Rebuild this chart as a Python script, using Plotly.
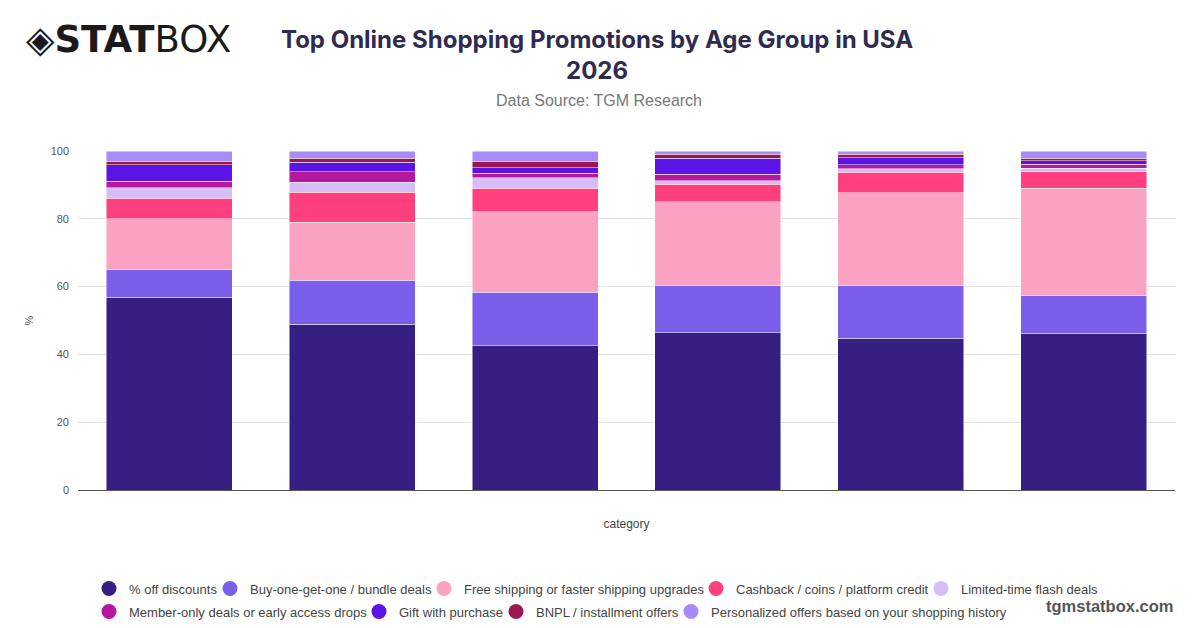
import plotly.graph_objects as go

# age groups (tick labels are hidden in the chart)
age_groups = ["18-24", "25-34", "35-44", "45-54", "55-64", "65+"]

pct_off = [56.8, 48.9, 42.5, 46.4, 44.8, 46.3]
bogo = [8.2, 13.0, 15.8, 13.9, 15.4, 11.2]
free_shipping = [15.0, 17.1, 23.8, 24.7, 27.5, 31.5]
cashback = [6.1, 8.8, 6.9, 5.2, 6.1, 4.9]
flash_deals = [3.0, 3.0, 3.1, 1.0, 1.0, 1.0]
member_only = [2.0, 3.1, 1.3, 2.0, 1.2, 1.2]
gift = [4.9, 2.8, 1.7, 4.7, 2.0, 1.0]
bnpl = [1.0, 1.2, 1.9, 1.2, 1.0, 0.8]
personalized = [3.0, 2.1, 3.0, 0.9, 1.0, 2.1]

series = [
    ("% off discounts", pct_off, "#371e82"),
    ("Buy-one-get-one / bundle deals", bogo, "#7b5feb"),
    ("Free shipping or faster shipping upgrades", free_shipping, "#fba1c1"),
    ("Cashback / coins / platform credit", cashback, "#ff3f7e"),
    ("Limited-time flash deals", flash_deals, "#d6bdf8"),
    ("Member-only deals or early access drops", member_only, "#b3189f"),
    ("Gift with purchase", gift, "#5b13e6"),
    ("BNPL / installment offers", bnpl, "#9c1750"),
    ("Personalized offers based on your shopping history", personalized, "#a68cf6"),
]

# where each legend entry's text starts (pixels) and which row it sits in
legend_text_x = [128, 249, 463, 735, 960, 128, 398, 535, 710]
legend_row = [0, 0, 0, 0, 0, 1, 1, 1, 1]

# plot area in page pixels (page has an 8px body margin)
PL, PR, PT, PB = 78, 1175, 151, 490
PW, PH = PR - PL, PB - PT


def px_x(x):
    return (x - PL) / PW


def px_y(y):
    return (PB - y) / PH


fig = go.Figure()
layout_legends = {}
for i, (name, vals, col) in enumerate(series):
    fig.add_trace(go.Bar(
        x=age_groups, y=vals, name=name, showlegend=False, legendgroup=name,
        marker=dict(color=col, line=dict(color="rgba(255,255,255,0.6)", width=0.8)),
    ))
    key = "legend" if i == 0 else "legend%d" % (i + 1)
    # round legend markers
    fig.add_trace(go.Scatter(
        x=[None], y=[None], mode="markers", name=name, legendgroup=name,
        marker=dict(color=col, size=15, symbol="circle"),
        legend=key,
    ))
    row_center = 590 if legend_row[i] == 0 else 613
    layout_legends[key] = dict(
        orientation="h", xanchor="left", yanchor="top",
        x=px_x(legend_text_x[i] - 39), y=px_y(row_center - 16.5),
        font=dict(family="Liberation Sans, Arial, sans-serif", size=13, color="#444444"),
        itemwidth=30, bgcolor="rgba(0,0,0,0)",
    )

fig.update_layout(
    barmode="stack",
    bargap=0.31,
    width=1192, height=620,
    margin=dict(l=PL - 8, r=1192 - (PR - 8), t=PT - 8, b=620 - (PB - 8), autoexpand=False),
    plot_bgcolor="white", paper_bgcolor="white",
    font=dict(family="Liberation Sans, Arial, sans-serif", color="#555555"),
    showlegend=True,
    **layout_legends,
)

fig.update_yaxes(
    range=[0, 100], dtick=20, showgrid=True, gridcolor="#e2e2e2",
    zeroline=False, tickfont=dict(size=11, color="#555555"),
    ticklabelstandoff=8,
    title=dict(text="%", font=dict(size=11, color="#555555"), standoff=14),
    ticks="", ticklen=0,
)
fig.update_xaxes(
    showticklabels=False, showline=True, linecolor="#555555", linewidth=1,
    title=dict(text="category", font=dict(size=12, color="#444444"), standoff=29),
)

# title and subtitle
fig.add_annotation(
    xref="paper", yref="paper", x=px_x(597), y=px_y(55),
    xanchor="center", yanchor="middle", showarrow=False,
    text="<b>Top Online Shopping Promotions by Age Group in USA<br>2026</b>",
    font=dict(family="Inter, Roboto, sans-serif", size=24, color="#2f2b4f"),
)
fig.add_annotation(
    xref="paper", yref="paper", x=px_x(599), y=px_y(101),
    xanchor="center", yanchor="middle", showarrow=False,
    text="Data Source: TGM Research",
    font=dict(size=16, color="#777777"),
)

# logo
fig.add_annotation(
    xref="paper", yref="paper", x=px_x(24), y=px_y(40),
    xanchor="left", yanchor="middle", showarrow=False,
    text="◈<b>STAT</b>BOX",
    font=dict(family="DejaVu Sans, sans-serif", size=37, color="#1a1a1a"),
)

# website
fig.add_annotation(
    xref="paper", yref="paper", x=1.0, y=px_y(606),
    xanchor="right", yanchor="middle", showarrow=False,
    text="<b>tgmstatbox.com</b>",
    font=dict(size=16.5, color="#555555"),
)

fig.write_html("out.html")
